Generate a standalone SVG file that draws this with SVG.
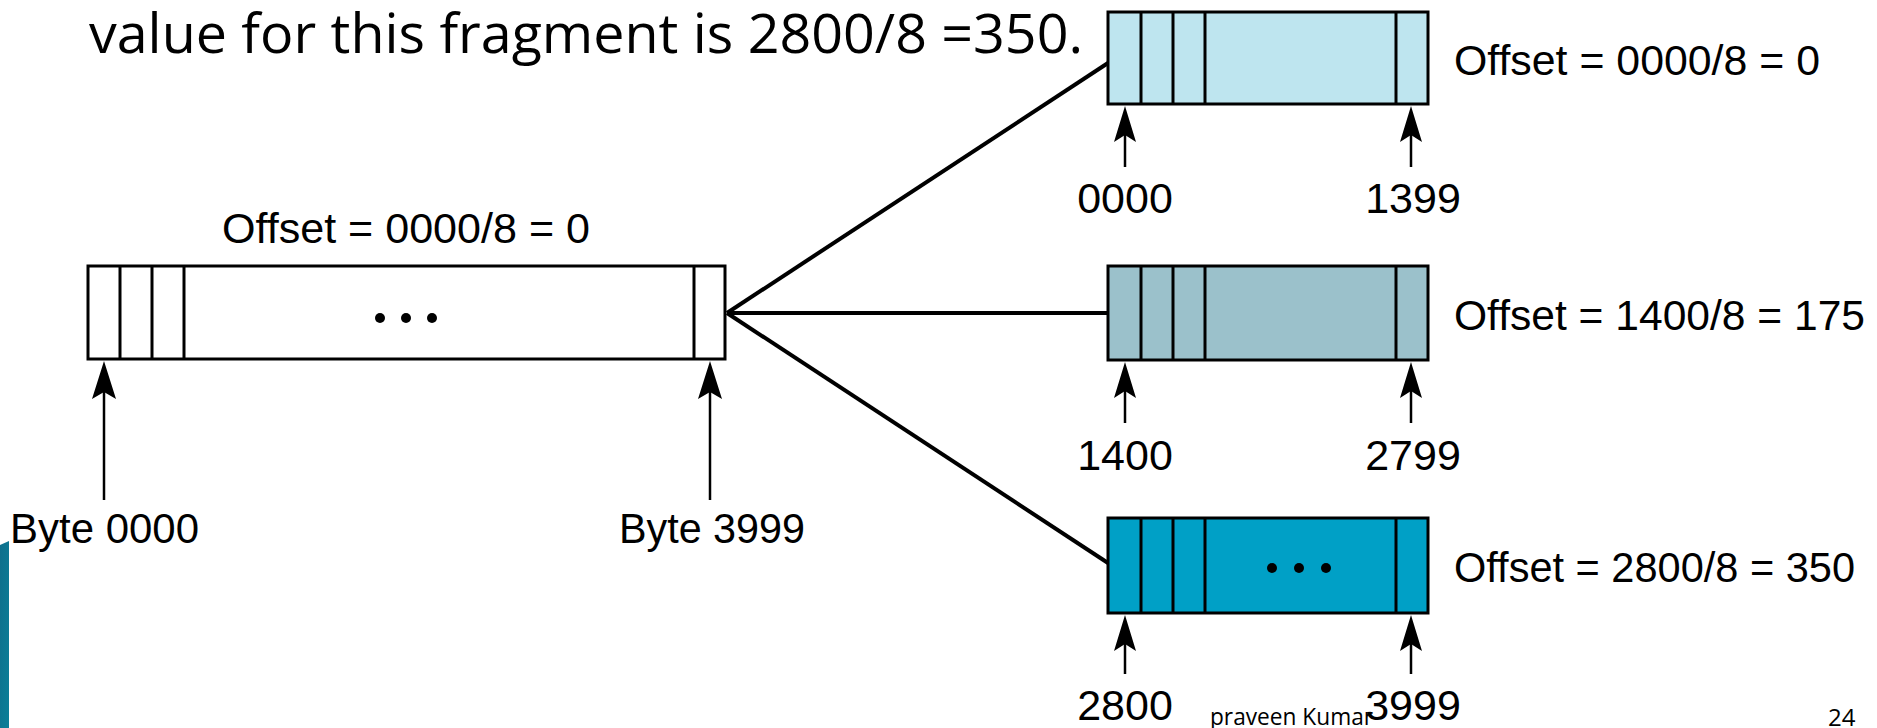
<svg xmlns="http://www.w3.org/2000/svg" xmlns:xlink="http://www.w3.org/1999/xlink" width="1877" height="728" viewBox="0 0 1877 728">
<style>
.box{stroke:#000;stroke-width:3}
.div{stroke:#000;stroke-width:3}
.ar{stroke:#000;stroke-width:2.5;fill:none}
.con{stroke:#000;stroke-width:4;fill:none}
.lbl{font-family:"Liberation Sans",Arial,sans-serif;font-size:43px;fill:#000}
.num{font-family:"Liberation Sans",Arial,sans-serif;font-size:43px;fill:#000;text-anchor:middle}
.small{font-family:"Open Sans","Liberation Sans",sans-serif;font-size:24px;fill:#000}
</style>
<defs>
<path id="ah" d="M0,0 L12,38 L0,31 L-12,38 Z" fill="#000"/>
<path id="ahs" d="M0,0 L11,36 L0,29 L-11,36 Z" fill="#000"/>
<linearGradient id="bar" x1="0" y1="0" x2="1" y2="1">
<stop offset="0" stop-color="#0F6F8C"/>
<stop offset="1" stop-color="#0A7F98"/>
</linearGradient>
</defs>
<rect width="1877" height="728" fill="#fff"/>
<polygon points="0,545 9,541 9,728 0,728" fill="url(#bar)"/>
<text x="89" y="53" font-family="'Open Sans','Liberation Sans',sans-serif" font-size="54" textLength="994" lengthAdjust="spacingAndGlyphs">value for this fragment is 2800/8 =350.</text>
<g id="connectors">
<line class="con" x1="727" y1="313" x2="1108" y2="63"/>
<line class="con" x1="727" y1="313" x2="1108" y2="313"/>
<line class="con" x1="727" y1="313" x2="1108" y2="563"/>
</g>
<g id="original">
<text class="lbl" x="222" y="243" textLength="368" lengthAdjust="spacingAndGlyphs">Offset = 0000/8 = 0</text>
<rect class="box" x="88" y="266" width="637" height="93" fill="#fff"/>
<line class="div" x1="120" y1="266" x2="120" y2="359"/>
<line class="div" x1="152" y1="266" x2="152" y2="359"/>
<line class="div" x1="184" y1="266" x2="184" y2="359"/>
<line class="div" x1="694" y1="266" x2="694" y2="359"/>
<circle cx="380" cy="318" r="5"/>
<circle cx="406" cy="318" r="5"/>
<circle cx="432" cy="318" r="5"/>
<line class="ar" x1="104" y1="390" x2="104" y2="500"/>
<use xlink:href="#ah" x="104" y="361"/>
<line class="ar" x1="710" y1="390" x2="710" y2="500"/>
<use xlink:href="#ah" x="710" y="361"/>
<text class="lbl" x="10" y="543" textLength="189" lengthAdjust="spacingAndGlyphs">Byte 0000</text>
<text class="lbl" x="619" y="543" textLength="186" lengthAdjust="spacingAndGlyphs">Byte 3999</text>
</g>
<g id="fragment1">
<rect class="box" x="1108" y="12" width="320" height="92" fill="#BEE5EF"/>
<line class="div" x1="1141" y1="12" x2="1141" y2="104"/>
<line class="div" x1="1173" y1="12" x2="1173" y2="104"/>
<line class="div" x1="1205" y1="12" x2="1205" y2="104"/>
<line class="div" x1="1396" y1="12" x2="1396" y2="104"/>
<line class="ar" x1="1125" y1="130" x2="1125" y2="167"/>
<use xlink:href="#ahs" x="1125" y="106"/>
<line class="ar" x1="1411" y1="130" x2="1411" y2="167"/>
<use xlink:href="#ahs" x="1411" y="106"/>
<text class="lbl" x="1454" y="75" textLength="366" lengthAdjust="spacingAndGlyphs">Offset = 0000/8 = 0</text>
<text class="num" x="1125" y="213">0000</text>
<text class="num" x="1413" y="213">1399</text>
</g>
<g id="fragment2">
<rect class="box" x="1108" y="266" width="320" height="94" fill="#9BC1CB"/>
<line class="div" x1="1141" y1="266" x2="1141" y2="360"/>
<line class="div" x1="1173" y1="266" x2="1173" y2="360"/>
<line class="div" x1="1205" y1="266" x2="1205" y2="360"/>
<line class="div" x1="1396" y1="266" x2="1396" y2="360"/>
<line class="ar" x1="1125" y1="385" x2="1125" y2="423"/>
<use xlink:href="#ahs" x="1125" y="362"/>
<line class="ar" x1="1411" y1="385" x2="1411" y2="423"/>
<use xlink:href="#ahs" x="1411" y="362"/>
<text class="lbl" x="1454" y="330" textLength="411" lengthAdjust="spacingAndGlyphs">Offset = 1400/8 = 175</text>
<text class="num" x="1125" y="470">1400</text>
<text class="num" x="1413" y="470">2799</text>
</g>
<g id="fragment3">
<rect class="box" x="1108" y="518" width="320" height="95" fill="#00A0C6"/>
<line class="div" x1="1141" y1="518" x2="1141" y2="613"/>
<line class="div" x1="1173" y1="518" x2="1173" y2="613"/>
<line class="div" x1="1205" y1="518" x2="1205" y2="613"/>
<line class="div" x1="1396" y1="518" x2="1396" y2="613"/>
<circle cx="1272" cy="568" r="5"/>
<circle cx="1299" cy="568" r="5"/>
<circle cx="1326" cy="568" r="5"/>
<line class="ar" x1="1125" y1="638" x2="1125" y2="674"/>
<use xlink:href="#ahs" x="1125" y="615"/>
<line class="ar" x1="1411" y1="638" x2="1411" y2="674"/>
<use xlink:href="#ahs" x="1411" y="615"/>
<text class="lbl" x="1454" y="582" textLength="401" lengthAdjust="spacingAndGlyphs">Offset = 2800/8 = 350</text>
<text class="num" x="1125" y="720">2800</text>
<text class="num" x="1413" y="720">3999</text>
</g>
<text class="small" x="1210" y="725" textLength="163" lengthAdjust="spacingAndGlyphs">praveen Kumar</text>
<text class="small" x="1828" y="726">24</text>
</svg>
